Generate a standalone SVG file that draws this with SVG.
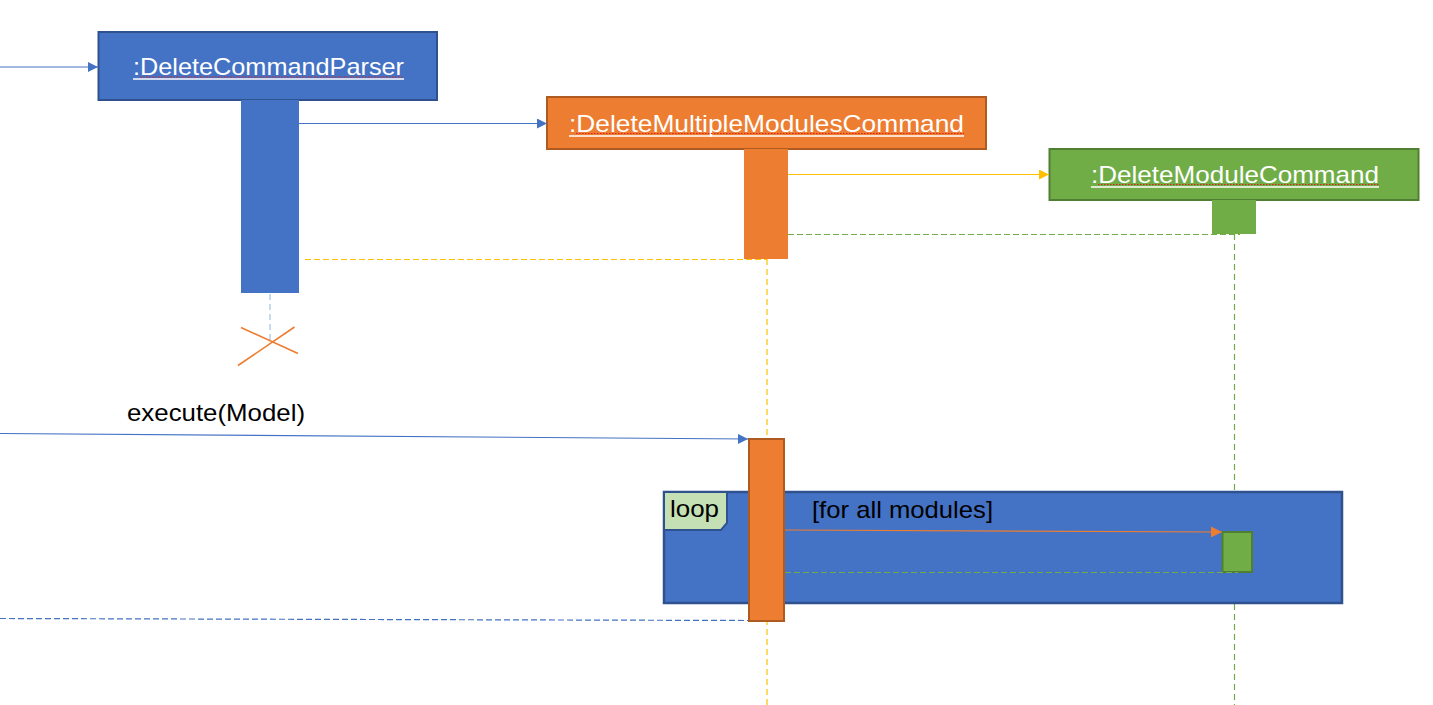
<svg xmlns="http://www.w3.org/2000/svg" width="1433" height="705" viewBox="0 0 1433 705">
<style>
.lbl{font-family:"Liberation Sans",Arial,sans-serif;font-size:24px;fill:#000}
.hdr{font-family:"Liberation Sans",Arial,sans-serif;font-size:24px;fill:#fff}
.ul{stroke:#fff;stroke-width:1.6}
.spell{stroke:#e02020;stroke-width:1;stroke-dasharray:1.5 1.5}
.msg{fill:none;stroke-width:1.2}
.dash{fill:none;stroke-width:1.2;stroke-dasharray:6 3}
.life{fill:none;stroke-width:1.2;stroke-dasharray:6 4}
</style>
<defs>
<marker id="ab" viewBox="0 0 10 10" refX="10" refY="5" markerWidth="10" markerHeight="10" markerUnits="userSpaceOnUse" orient="auto"><path d="M0,0 L10,5 L0,10 z" fill="#4472C4"/></marker>
<marker id="ay" viewBox="0 0 10 10" refX="10" refY="5" markerWidth="10" markerHeight="10" markerUnits="userSpaceOnUse" orient="auto"><path d="M0,0 L10,5 L0,10 z" fill="#FFC000"/></marker>
<marker id="ao" viewBox="0 0 10 10" refX="10" refY="5" markerWidth="11" markerHeight="11" markerUnits="userSpaceOnUse" orient="auto"><path d="M0,0 L10,5 L0,10 z" fill="#ED7D31"/></marker>
</defs>
<rect width="1433" height="705" fill="#fff"/>

<g id="lifelines">
<line class="life" x1="270" y1="294" x2="270" y2="340" stroke="#9DC3E6"/>
<line class="life" x1="767" y1="259" x2="767" y2="705" stroke="#FFC000"/>
<line class="life" x1="1234.5" y1="234" x2="1234.5" y2="705" stroke="#70AD47"/>
</g>

<g id="parser">
<rect x="98.5" y="32" width="338.5" height="68" fill="#4472C4" stroke="#2F528F" stroke-width="2"/>
<rect x="241" y="100" width="58" height="193" fill="#4472C4"/>
<text class="hdr" x="133" y="75" textLength="271" lengthAdjust="spacingAndGlyphs">:DeleteCommandParser</text>
<line class="spell" x1="140" y1="77" x2="404" y2="77"/>
<line class="ul" x1="133" y1="79" x2="404" y2="79"/>
</g>

<g id="destroy">
<line x1="241" y1="327.5" x2="298" y2="353.5" stroke="#ED7D31" stroke-width="1.6"/>
<line x1="238" y1="365.5" x2="294.5" y2="327" stroke="#ED7D31" stroke-width="1.6"/>
</g>

<g id="multi">
<rect x="547" y="97" width="439" height="52" fill="#ED7D31" stroke="#AE5A21" stroke-width="2"/>
<rect x="744" y="149" width="44" height="110" fill="#ED7D31"/>
<text class="hdr" x="569" y="131.5" textLength="395" lengthAdjust="spacingAndGlyphs">:DeleteMultipleModulesCommand</text>
<line class="spell" x1="576" y1="133.5" x2="964" y2="133.5"/>
<line class="ul" x1="569" y1="136" x2="964" y2="136"/>
</g>

<g id="single">
<rect x="1049.5" y="149" width="369" height="51" fill="#70AD47" stroke="#507E32" stroke-width="2"/>
<rect x="1212" y="200" width="44" height="34" fill="#70AD47"/>
<text class="hdr" x="1091" y="182.5" textLength="288" lengthAdjust="spacingAndGlyphs">:DeleteModuleCommand</text>
<line class="spell" x1="1098" y1="184.5" x2="1379" y2="184.5"/>
<line class="ul" x1="1091" y1="187" x2="1379" y2="187"/>
</g>

<g id="loop">
<rect x="664" y="492" width="678" height="111" fill="#4472C4" stroke="#2F528F" stroke-width="2.5"/>
<path d="M664,492 H727 V523 L721,530 H664 Z" fill="#C5E0B4" stroke="#2F528F" stroke-width="2"/>
<text class="lbl" x="670" y="517" font-size="23" textLength="49" lengthAdjust="spacingAndGlyphs">loop</text>
<text class="lbl" x="812" y="518" textLength="181" lengthAdjust="spacingAndGlyphs">[for all modules]</text>
</g>

<g id="multi-activation">
<rect x="749" y="439" width="35" height="182" fill="#ED7D31" stroke="#AE5A21" stroke-width="2"/>
</g>

<g id="single-activation">
<rect x="1222.5" y="532" width="29.5" height="40" fill="#70AD47" stroke="#507E32" stroke-width="2"/>
</g>

<g id="connectors">
<line class="msg" x1="0" y1="67" x2="98" y2="67" stroke="#4472C4" marker-end="url(#ab)"/>
<line class="msg" x1="299" y1="123.5" x2="547" y2="123.5" stroke="#4472C4" marker-end="url(#ab)"/>
<line class="msg" x1="788" y1="174.5" x2="1049" y2="174.5" stroke="#FFC000" marker-end="url(#ay)"/>
<line class="dash" x1="788" y1="234.5" x2="1240" y2="234.5" stroke="#70AD47"/>
<line class="dash" x1="305" y1="259.5" x2="767" y2="259.5" stroke="#FFC000"/>
<line class="msg" x1="0" y1="433.5" x2="748" y2="439" stroke="#4472C4" marker-end="url(#ab)"/>
<text class="lbl" x="127" y="420.5" textLength="178" lengthAdjust="spacingAndGlyphs">execute(Model)</text>
<line class="msg" x1="785" y1="530" x2="1222" y2="532" stroke="#ED7D31" marker-end="url(#ao)"/>
<line class="dash" x1="785" y1="572.5" x2="1238" y2="572.5" stroke="#70AD47"/>
<line class="dash" x1="0" y1="618.5" x2="748" y2="620.5" stroke="#4472C4"/>
</g>
</svg>
